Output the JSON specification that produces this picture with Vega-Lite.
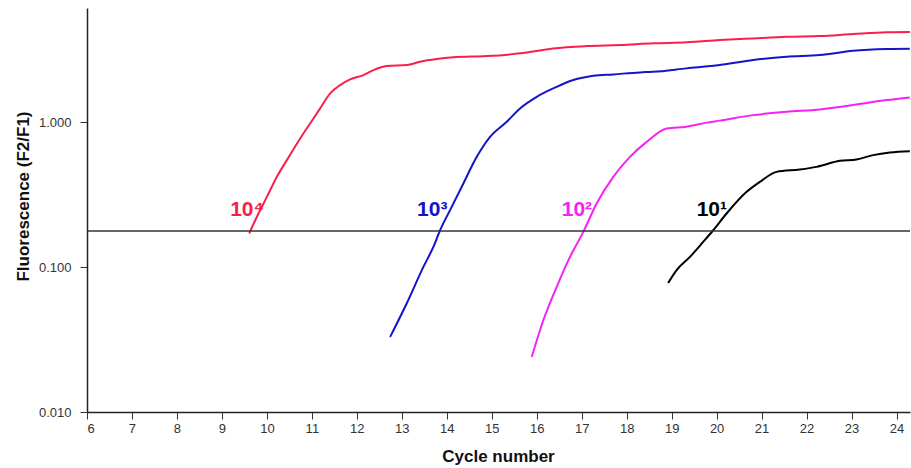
{
  "$schema": "https://vega.github.io/schema/vega-lite/v6.json",
  "width": 823,
  "height": 404,
  "autosize": {"type": "none"},
  "padding": {"left": 87, "top": 8, "right": 1, "bottom": 56},
  "background": "white",
  "config": {
    "view": {"stroke": null},
    "axis": {
      "grid": false,
      "domainColor": "#222",
      "domainWidth": 1.5,
      "tickColor": "#333",
      "tickWidth": 1,
      "labelColor": "#333",
      "labelFont": "Liberation Sans",
      "labelFontSize": 13,
      "titleFont": "Liberation Sans",
      "titleFontSize": 17,
      "titleFontWeight": "bold",
      "titleColor": "#111"
    }
  },
  "datasets": {
    "curves": [
      {"series": "10⁴", "cycle": 9.607, "value": 0.171},
      {"series": "10⁴", "cycle": 9.778, "value": 0.223},
      {"series": "10⁴", "cycle": 10.0, "value": 0.306},
      {"series": "10⁴", "cycle": 10.222, "value": 0.421},
      {"series": "10⁴", "cycle": 10.444, "value": 0.549},
      {"series": "10⁴", "cycle": 10.74, "value": 0.775},
      {"series": "10⁴", "cycle": 10.962, "value": 0.984},
      {"series": "10⁴", "cycle": 11.184, "value": 1.25},
      {"series": "10⁴", "cycle": 11.407, "value": 1.586},
      {"series": "10⁴", "cycle": 11.629, "value": 1.811},
      {"series": "10⁴", "cycle": 11.851, "value": 1.982},
      {"series": "10⁴", "cycle": 12.147, "value": 2.123},
      {"series": "10⁴", "cycle": 12.369, "value": 2.298},
      {"series": "10⁴", "cycle": 12.667, "value": 2.449},
      {"series": "10⁴", "cycle": 13.111, "value": 2.489},
      {"series": "10⁴", "cycle": 13.407, "value": 2.624},
      {"series": "10⁴", "cycle": 13.778, "value": 2.739},
      {"series": "10⁴", "cycle": 14.147, "value": 2.814},
      {"series": "10⁴", "cycle": 14.889, "value": 2.872},
      {"series": "10⁴", "cycle": 15.407, "value": 2.951},
      {"series": "10⁴", "cycle": 15.629, "value": 2.999},
      {"series": "10⁴", "cycle": 16.362, "value": 3.246},
      {"series": "10⁴", "cycle": 17.111, "value": 3.368},
      {"series": "10⁴", "cycle": 17.851, "value": 3.422},
      {"series": "10⁴", "cycle": 18.584, "value": 3.516},
      {"series": "10⁴", "cycle": 19.333, "value": 3.572},
      {"series": "10⁴", "cycle": 20.073, "value": 3.705},
      {"series": "10⁴", "cycle": 20.813, "value": 3.806},
      {"series": "10⁴", "cycle": 21.556, "value": 3.904},
      {"series": "10⁴", "cycle": 22.296, "value": 3.948},
      {"series": "10⁴", "cycle": 23.036, "value": 4.075},
      {"series": "10⁴", "cycle": 23.778, "value": 4.188},
      {"series": "10⁴", "cycle": 24.296, "value": 4.207},

      {"series": "10³", "cycle": 12.74, "value": 0.033},
      {"series": "10³", "cycle": 13.111, "value": 0.0564},
      {"series": "10³", "cycle": 13.48, "value": 0.1005},
      {"series": "10³", "cycle": 13.702, "value": 0.138},
      {"series": "10³", "cycle": 13.851, "value": 0.18},
      {"series": "10³", "cycle": 14.073, "value": 0.2477},
      {"series": "10³", "cycle": 14.369, "value": 0.379},
      {"series": "10³", "cycle": 14.667, "value": 0.5785},
      {"series": "10³", "cycle": 14.962, "value": 0.795},
      {"series": "10³", "cycle": 15.333, "value": 1.01},
      {"series": "10³", "cycle": 15.629, "value": 1.25},
      {"series": "10³", "cycle": 16.0, "value": 1.503},
      {"series": "10³", "cycle": 16.444, "value": 1.762},
      {"series": "10³", "cycle": 16.813, "value": 1.961},
      {"series": "10³", "cycle": 17.258, "value": 2.099},
      {"series": "10³", "cycle": 17.702, "value": 2.147},
      {"series": "10³", "cycle": 18.296, "value": 2.216},
      {"series": "10³", "cycle": 18.584, "value": 2.237},
      {"series": "10³", "cycle": 19.333, "value": 2.362},
      {"series": "10³", "cycle": 20.073, "value": 2.489},
      {"series": "10³", "cycle": 20.813, "value": 2.695},
      {"series": "10³", "cycle": 21.556, "value": 2.841},
      {"series": "10³", "cycle": 22.296, "value": 2.918},
      {"series": "10³", "cycle": 23.036, "value": 3.125},
      {"series": "10³", "cycle": 23.778, "value": 3.211},
      {"series": "10³", "cycle": 24.296, "value": 3.226},

      {"series": "10²", "cycle": 15.889, "value": 0.024},
      {"series": "10²", "cycle": 16.147, "value": 0.043},
      {"series": "10²", "cycle": 16.444, "value": 0.0731},
      {"series": "10²", "cycle": 16.74, "value": 0.1178},
      {"series": "10²", "cycle": 17.036, "value": 0.1754},
      {"series": "10²", "cycle": 17.333, "value": 0.2756},
      {"series": "10²", "cycle": 17.702, "value": 0.4207},
      {"series": "10²", "cycle": 18.073, "value": 0.578},
      {"series": "10²", "cycle": 18.444, "value": 0.734},
      {"series": "10²", "cycle": 18.889, "value": 0.909},
      {"series": "10²", "cycle": 19.333, "value": 0.935},
      {"series": "10²", "cycle": 19.778, "value": 0.997},
      {"series": "10²", "cycle": 20.073, "value": 1.029},
      {"series": "10²", "cycle": 20.813, "value": 1.123},
      {"series": "10²", "cycle": 21.556, "value": 1.184},
      {"series": "10²", "cycle": 22.296, "value": 1.23},
      {"series": "10²", "cycle": 23.036, "value": 1.317},
      {"series": "10²", "cycle": 23.778, "value": 1.426},
      {"series": "10²", "cycle": 24.296, "value": 1.489},

      {"series": "10¹", "cycle": 18.924, "value": 0.0779},
      {"series": "10¹", "cycle": 19.111, "value": 0.0954},
      {"series": "10¹", "cycle": 19.407, "value": 0.1178},
      {"series": "10¹", "cycle": 19.702, "value": 0.1496},
      {"series": "10¹", "cycle": 19.924, "value": 0.18},
      {"series": "10¹", "cycle": 20.222, "value": 0.235},
      {"series": "10¹", "cycle": 20.667, "value": 0.3314},
      {"series": "10¹", "cycle": 20.962, "value": 0.3886},
      {"series": "10¹", "cycle": 21.333, "value": 0.4556},
      {"series": "10¹", "cycle": 21.851, "value": 0.4733},
      {"series": "10¹", "cycle": 22.222, "value": 0.4933},
      {"series": "10¹", "cycle": 22.74, "value": 0.5428},
      {"series": "10¹", "cycle": 23.111, "value": 0.555},
      {"series": "10¹", "cycle": 23.48, "value": 0.5943},
      {"series": "10¹", "cycle": 23.851, "value": 0.6203},
      {"series": "10¹", "cycle": 24.296, "value": 0.6333}
    ],
    "labels": [
      {"series": "10⁴", "cycle": 9.184, "value": 0.225},
      {"series": "10³", "cycle": 13.34, "value": 0.225},
      {"series": "10²", "cycle": 16.556, "value": 0.225},
      {"series": "10¹", "cycle": 19.556, "value": 0.225}
    ],
    "threshold": [
      {"value": 0.178}
    ]
  },
  "layer": [
    {
      "data": {"name": "curves"},
      "mark": {"type": "line", "strokeWidth": 2, "interpolate": "monotone"},
      "encoding": {
        "x": {
          "field": "cycle", "type": "quantitative",
          "scale": {"domain": [6, 24.3], "nice": false, "zero": false},
          "axis": {
            "title": "Cycle number",
            "values": [6,7,8,9,10,11,12,13,14,15,16,17,18,19,20,21,22,23,24],
            "format": "d",
            "tickSize": 7,
            "labelPadding": 3,
            "titleX": 411,
            "titleY": 44,
            "titleBaseline": "middle"
          }
        },
        "y": {
          "field": "value", "type": "quantitative",
          "scale": {"type": "log", "domain": [0.01, 6.17], "nice": false},
          "axis": {
            "title": "Fluorescence (F2/F1)",
            "values": [0.01, 0.1, 1],
            "format": ".3f",
            "tickSize": 7,
            "labelPadding": 9,
            "titleX": -64,
            "titleY": 188,
            "titleAngle": -90,
            "titleAlign": "center",
            "titleBaseline": "middle"
          }
        },
        "color": {
          "field": "series", "type": "nominal",
          "scale": {"domain": ["10⁴", "10³", "10²", "10¹"], "range": ["#fa1f4a", "#1414c8", "#f522f5", "#000000"]},
          "legend": null
        },
        "detail": {"field": "series"}
      }
    },
    {
      "data": {"name": "threshold"},
      "mark": {"type": "rule", "color": "#333", "strokeWidth": 1.5},
      "encoding": {
        "y": {
          "field": "value", "type": "quantitative",
          "axis": {
            "title": "Fluorescence (F2/F1)",
            "values": [0.01, 0.1, 1],
            "format": ".3f",
            "tickSize": 7,
            "labelPadding": 9,
            "titleX": -64,
            "titleY": 188,
            "titleAngle": -90,
            "titleAlign": "center",
            "titleBaseline": "middle"
          }
        }
      }
    },
    {
      "data": {"name": "labels"},
      "mark": {"type": "text", "font": "Liberation Sans", "fontSize": 21, "fontWeight": "bold", "align": "left", "baseline": "alphabetic"},
      "encoding": {
        "x": {
          "field": "cycle", "type": "quantitative",
          "axis": {
            "title": "Cycle number",
            "values": [6,7,8,9,10,11,12,13,14,15,16,17,18,19,20,21,22,23,24],
            "format": "d",
            "tickSize": 7,
            "labelPadding": 3,
            "titleX": 411,
            "titleY": 44,
            "titleBaseline": "middle"
          }
        },
        "y": {
          "field": "value", "type": "quantitative",
          "axis": {
            "title": "Fluorescence (F2/F1)",
            "values": [0.01, 0.1, 1],
            "format": ".3f",
            "tickSize": 7,
            "labelPadding": 9,
            "titleX": -64,
            "titleY": 188,
            "titleAngle": -90,
            "titleAlign": "center",
            "titleBaseline": "middle"
          }
        },
        "text": {"field": "series"},
        "color": {"field": "series", "type": "nominal", "legend": null}
      }
    }
  ]
}
